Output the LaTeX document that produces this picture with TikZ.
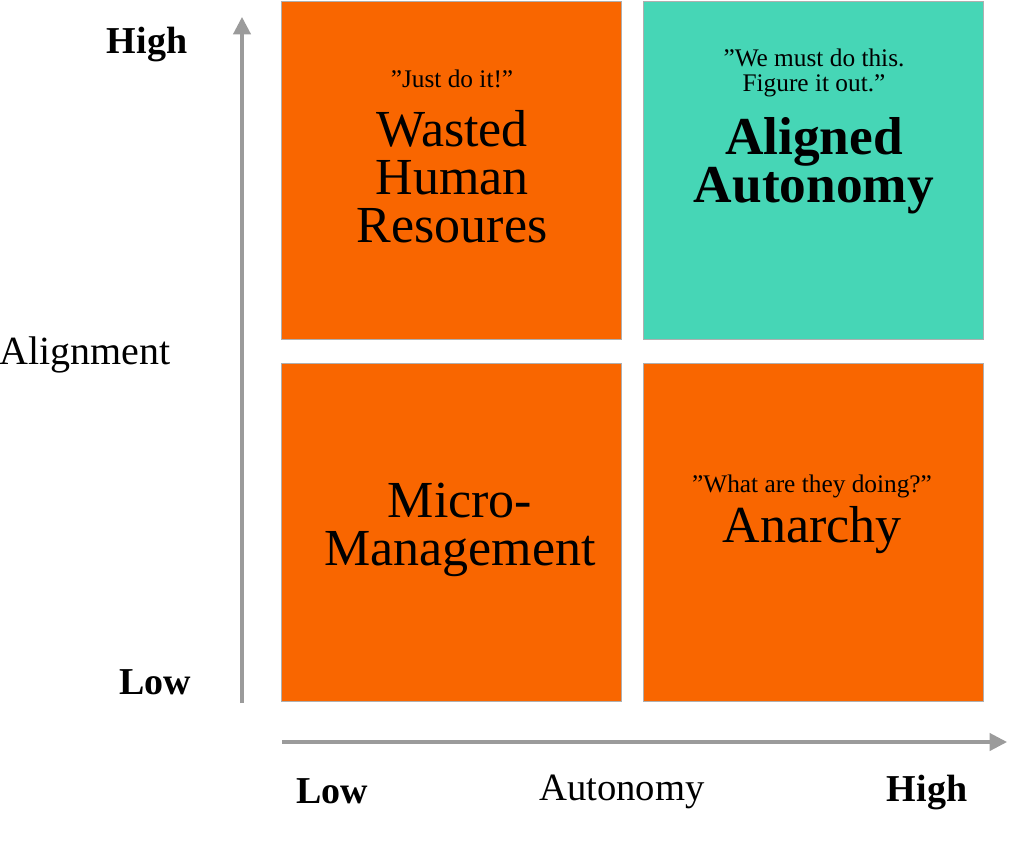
\documentclass[tikz,border=0pt]{standalone}
\usepackage{fontspec}
\setmainfont{Liberation Serif}
\usepackage{xcolor}
\usetikzlibrary{arrows.meta}
\definecolor{algorange}{RGB}{249,102,0}
\definecolor{algteal}{RGB}{70,214,182}
\definecolor{alggray}{RGB}{155,155,155}
\definecolor{algedge}{RGB}{175,175,175}

\begin{document}
\begin{tikzpicture}[x=0.75pt,y=-0.75pt,
    quad/.style={draw=algedge,line width=0.6pt,minimum width=255pt,minimum height=253.5pt,inner sep=0pt},
    quote/.style={align=center,font=\fontsize{19}{18.5}\selectfont},
    title/.style={align=center,font=\fontsize{39}{36}\selectfont},
    axislabel/.style={font=\fontsize{29}{30}\selectfont}]
    \useasboundingbox (0,0) rectangle (1024,864);

    % Four quadrants
    \node[quad,fill=algorange] (wasted)  at (451.5,170) {};
    \node[quad,fill=algteal]   (aligned) at (813,170)   {};
    \node[quad,fill=algorange] (micro)   at (451.5,532) {};
    \node[quad,fill=algorange] (anarchy) at (813,532)   {};

    % Quadrant texts
    \node[quote] (q1) at (452,79) {"Just do it!"};
    \node[title] (t1) at (452,177) {Wasted\\Human\\Resoures};
    \node[quote] (q2) at (814,73) {"We must do this.\\Figure it out."};
    \node[title,font=\fontsize{40}{36}\selectfont\bfseries] (t2) at (814,166) {Aligned\\Autonomy};
    \node[title] (t3) at (460,530) {Micro-\\Management};
    \node[quote] (q4) at (812,486) {"What are they doing?"};
    \node[title] (t4) at (812,530) {Anarchy};

    % Axes
    \coordinate (ybot) at (242,703);
    \coordinate (ytop) at (242,17);
    \coordinate (xleft) at (282,742);
    \coordinate (xright) at (1007,742);
    \draw[alggray,line width=2.3pt,-{Triangle[length=13pt,width=13pt]}] (ybot) -- (ytop);
    \draw[alggray,line width=2.3pt,-{Triangle[length=13pt,width=13pt]}] (xleft) -- (xright);

    % Axis labels
    \node[axislabel,font=\fontsize{28.5}{30}\selectfont\bfseries] (yhigh) at (147,45) {High};
    \node[axislabel,font=\fontsize{28.5}{30}\selectfont\bfseries] (ylow) at (155,682) {Low};
    \node[axislabel,font=\fontsize{30}{30}\selectfont] (ylab) at (85,355) {Alignment};
    \node[axislabel,font=\fontsize{28.5}{30}\selectfont\bfseries] (xlow) at (332,791) {Low};
    \node[axislabel] (xlab) at (622,792) {Autonomy};
    \node[axislabel,font=\fontsize{28.5}{30}\selectfont\bfseries] (xhigh) at (927,792) {High};
\end{tikzpicture}
\end{document}
